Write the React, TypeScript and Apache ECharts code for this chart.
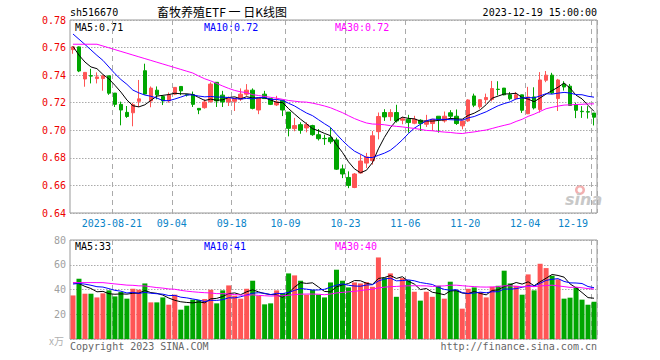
import React, { useEffect, useRef } from 'react';
import * as echarts from 'echarts';

// trading days shown on the chart
const dates = [
  '2023-08-10','2023-08-11','2023-08-14','2023-08-15','2023-08-16','2023-08-17','2023-08-18',
  '2023-08-21','2023-08-22','2023-08-23','2023-08-24','2023-08-25','2023-08-28','2023-08-29','2023-08-30','2023-08-31','2023-09-01',
  '2023-09-04','2023-09-05','2023-09-06','2023-09-07','2023-09-08','2023-09-11','2023-09-12','2023-09-13','2023-09-14','2023-09-15',
  '2023-09-18','2023-09-19','2023-09-20','2023-09-21','2023-09-22','2023-09-25','2023-09-26','2023-09-27','2023-09-28',
  '2023-10-09','2023-10-10','2023-10-11','2023-10-12','2023-10-13','2023-10-16','2023-10-17','2023-10-18','2023-10-19','2023-10-20',
  '2023-10-23','2023-10-24','2023-10-25','2023-10-26','2023-10-27','2023-10-30','2023-10-31','2023-11-01','2023-11-02','2023-11-03',
  '2023-11-06','2023-11-07','2023-11-08','2023-11-09','2023-11-10','2023-11-13','2023-11-14','2023-11-15','2023-11-16','2023-11-17',
  '2023-11-20','2023-11-21','2023-11-22','2023-11-23','2023-11-24','2023-11-27','2023-11-28','2023-11-29','2023-11-30','2023-12-01',
  '2023-12-04','2023-12-05','2023-12-06','2023-12-07','2023-12-08','2023-12-11','2023-12-12','2023-12-13','2023-12-14','2023-12-15',
  '2023-12-18','2023-12-19'
];

const opens = [
  0.7585,0.7605,0.7372,0.7396,0.7375,0.7375,0.7395,0.727,0.7188,0.713,
  0.7127,0.721,0.7432,0.7213,0.7291,0.7245,0.7213,0.7262,0.7318,0.7258,
  0.7259,0.7159,0.7164,0.7208,0.7348,0.7255,0.7206,0.721,0.7225,0.7262,
  0.7291,0.7147,0.7262,0.723,0.7184,0.7218,0.7132,0.7012,0.7041,0.7017,
  0.7034,0.6968,0.6941,0.6946,0.693,0.672,0.6658,0.6585,0.669,0.6762,
  0.678,0.699,0.7129,0.7099,0.7129,0.7073,0.708,0.7051,0.7073,0.7044,
  0.7049,0.7102,0.7068,0.7127,0.7102,0.7032,0.7068,0.7249,0.717,0.7222,
  0.7224,0.7298,0.7306,0.7258,0.7229,0.7257,0.712,0.7242,0.715,0.7363,
  0.74,0.723,0.7335,0.732,0.7185,0.7138,0.7135,0.7125
];
const closes = [
  0.7605,0.743,0.742,0.7393,0.7387,0.7395,0.7269,0.7188,0.7147,0.710,
  0.7186,0.7228,0.7263,0.7306,0.7257,0.7213,0.7257,0.7311,0.7286,0.7256,
  0.7188,0.7147,0.7205,0.7335,0.7213,0.7206,0.723,0.723,0.7262,0.7291,
  0.7159,0.7233,0.723,0.7188,0.7206,0.7147,0.7014,0.7034,0.700,0.7041,
  0.6968,0.6939,0.6939,0.6917,0.6718,0.6683,0.660,0.6683,0.6777,0.6807,
  0.696,0.710,0.7097,0.7129,0.7068,0.7083,0.7056,0.708,0.7049,0.7068,
  0.708,0.708,0.7102,0.7102,0.7049,0.7068,0.722,0.7182,0.7222,0.7238,
  0.7303,0.7296,0.7257,0.7229,0.7258,0.7145,0.7242,0.7162,0.7365,0.740,
  0.727,0.7365,0.7314,0.718,0.7145,0.7135,0.7132,0.7095
];
const lows = [
  0.7555,0.7422,0.7316,0.734,0.734,0.7287,0.7257,0.7169,0.7036,0.709,
  0.7029,0.7169,0.7258,0.7167,0.7225,0.7183,0.720,0.7255,0.7255,0.7245,
  0.7169,0.7117,0.7157,0.720,0.7169,0.7169,0.7176,0.714,0.7213,0.725,
  0.7152,0.7117,0.7228,0.7183,0.7176,0.7103,0.6956,0.6993,0.6975,0.6985,
  0.696,0.6926,0.6894,0.6902,0.6712,0.6653,0.658,0.658,0.6688,0.6726,
  0.6751,0.6934,0.7068,0.7068,0.7056,0.7044,0.6983,0.7044,0.6995,0.7024,
  0.6995,0.6983,0.7056,0.708,0.7039,0.7007,0.7061,0.7168,0.7156,0.7193,
  0.721,0.7254,0.7254,0.7217,0.7224,0.7126,0.7117,0.7151,0.7129,0.7349,
  0.7263,0.714,0.7288,0.7176,0.7088,0.709,0.7085,0.7035
];
const highs = [
  0.761,0.7608,0.7422,0.7446,0.742,0.740,0.7395,0.727,0.7208,0.7176,
  0.720,0.7365,0.7483,0.7318,0.7318,0.7255,0.7274,0.7311,0.7318,0.7265,
  0.7281,0.7159,0.7225,0.7348,0.735,0.7286,0.7245,0.7237,0.7304,0.7335,
  0.7304,0.7233,0.7286,0.7233,0.725,0.7218,0.7132,0.709,0.7058,0.7058,
  0.704,0.7009,0.6968,0.7019,0.6946,0.6751,0.6702,0.669,0.6824,0.6836,
  0.6995,0.7129,0.7153,0.7153,0.7185,0.7097,0.7112,0.7105,0.708,0.7112,
  0.708,0.7102,0.7136,0.7146,0.7151,0.7068,0.7225,0.7266,0.7224,0.7266,
  0.7358,0.7356,0.7307,0.7278,0.7278,0.7258,0.7315,0.7312,0.7422,0.743,
  0.7417,0.7373,0.7356,0.7336,0.72,0.7175,0.7175,0.7125
];
// volume, 万
const volumes = [
  35.2,48.7,36.6,36.6,33.6,36.9,39.3,34.4,38.0,32.6,
  40.6,39.8,44.9,29.6,29.6,33.6,27.7,35.8,23.7,26.9,
  31.8,31.5,32.3,39.8,28.8,39.3,43.3,35.0,32.6,40.6,
  47.1,35.0,28.0,28.8,39.3,37.2,53.0,51.4,47.1,35.8,
  39.8,35.8,33.6,45.7,56.0,47.1,41.7,45.7,44.9,45.9,
  42.2,65.9,49.5,53.0,34.1,49.2,47.4,38.2,31.0,38.2,
  34.1,43.0,32.6,46.3,39.3,24.5,40.6,41.7,38.0,33.6,
  42.2,43.0,55.2,44.9,43.0,35.8,52.2,39.3,60.8,57.3,
  51.1,48.2,32.6,33.4,41.7,31.8,27.7,30.1
];
// sessions before 2023-08-10, only used to feed the moving averages
const priorCloses = [
  0.743,0.742,0.739,0.739,
  0.778,0.766,0.758,0.754,0.749,0.758,0.762,0.765,0.770,0.765,0.760,0.765,0.770,0.768,0.765,0.758,
  0.781,0.780,0.779,0.778,0.776,0.775,0.767,0.757,0.745
];
const priorVolumes = [
  48,37,37,34,37,
  55,50,52,48,45,53,47,50,49,46,48,44,50,47,46,
  44,42,46,45,40,52,48,45,47
];
const tickDates = ['2023-08-21','2023-09-04','2023-09-18','2023-10-09','2023-10-23','2023-11-06','2023-11-20','2023-12-04','2023-12-19'];

const UP = '#ff5555';
const DOWN = '#00a600';
const MONO = 'DejaVu Sans Mono';

function movingAverage(prior: number[], values: number[], n: number): number[] {
  const all = prior.concat(values);
  const off = prior.length;
  return values.map((_, i) => {
    let s = 0;
    for (let k = off + i - n + 1; k <= off + i; k++) s += all[k];
    return s / n;
  });
}

export default function App() {
  const ref = useRef<HTMLDivElement>(null);
  useEffect(() => {
    if (!ref.current) return;
    const chart = echarts.init(ref.current, null, { renderer: 'svg' });
    const tickIdx = new Set(tickDates.map((d) => dates.indexOf(d)));
    const isTick = (i: number) => tickIdx.has(i);

    const pMA5 = movingAverage(priorCloses, closes, 5);
    const pMA10 = movingAverage(priorCloses, closes, 10);
    const pMA30 = movingAverage(priorCloses, closes, 30);
    const vMA5 = movingAverage(priorVolumes, volumes, 5);
    const vMA10 = movingAverage(priorVolumes, volumes, 10);
    const vMA30 = movingAverage(priorVolumes, volumes, 30);
    const last = (a: number[]) => a[a.length - 1];

    const kData = dates.map((_, i) => [opens[i], closes[i], lows[i], highs[i]]);
    const vData = volumes.map((v, i) => ({
      value: v,
      itemStyle: { color: closes[i] >= opens[i] ? UP : DOWN },
    }));

    const dashV = { show: true, interval: isTick, lineStyle: { color: '#aaa', type: [5, 4], width: 1 } };
    const dotH = { show: true, lineStyle: { color: '#aaa', type: [1.5, 1.5], width: 1 } };

    const txt = (text: string, x: number, y: number, fill: string, align = 'left', size = 10, family = MONO, extra: any = {}) => ({
      type: 'text', x, y, silent: true,
      style: { text, fill, fontSize: size, fontFamily: family, textAlign: align, textVerticalAlign: 'middle', ...extra },
    });

    const maLine = (name: string, data: number[], color: string, xi: number, yi: number) => ({
      name, type: 'line', data, xAxisIndex: xi, yAxisIndex: yi, showSymbol: false, symbol: 'none',
      lineStyle: { color, width: 1 }, silent: true, z: 5,
    });

    chart.setOption({
      animation: false,
      backgroundColor: '#fff',
      grid: [
        { left: 70, top: 20, width: 527, height: 193, show: true, borderColor: '#999', borderWidth: 1 },
        { left: 70, top: 240, width: 527, height: 99, show: true, borderColor: '#999', borderWidth: 1 },
      ],
      xAxis: [
        {
          type: 'category', gridIndex: 0, data: dates, boundaryGap: true,
          axisLine: { show: false }, axisTick: { show: false },
          axisLabel: {
            interval: isTick, color: '#0a84c8', fontFamily: MONO, fontSize: 10, margin: 5,
            padding: [0, 6, 0, 0], alignMaxLabel: 'right',
            formatter: (v: string) => (v === tickDates[0] ? v : v.slice(5)),
          },
          splitLine: dashV,
        },
        {
          type: 'category', gridIndex: 1, data: dates, boundaryGap: true,
          axisLine: { show: false }, axisTick: { show: false }, axisLabel: { show: false },
          splitLine: dashV,
        },
      ],
      yAxis: [
        {
          type: 'value', gridIndex: 0, min: 0.64, max: 0.78, interval: 0.02, scale: true,
          axisLine: { show: false }, axisTick: { show: false },
          axisLabel: { color: '#ee0000', fontFamily: MONO, fontSize: 10, margin: 4, formatter: (v: number) => v.toFixed(2) },
          splitLine: dotH,
        },
        {
          type: 'value', gridIndex: 1, min: 0, max: 80, interval: 20,
          axisLine: { show: false }, axisTick: { show: false },
          axisLabel: { color: '#a0a0a0', fontFamily: MONO, fontSize: 10, margin: 4, formatter: (v: number) => (v === 0 ? '' : String(v)) },
          splitLine: dotH,
        },
      ],
      series: [
        {
          name: 'K', type: 'candlestick', data: kData, xAxisIndex: 0, yAxisIndex: 0, barWidth: 4,
          itemStyle: { color: UP, color0: DOWN, borderColor: UP, borderColor0: DOWN, borderWidth: 1 },
          silent: true, z: 3,
        },
        maLine('MA5', pMA5, '#000000', 0, 0),
        maLine('MA10', pMA10, '#0000ff', 0, 0),
        maLine('MA30', pMA30, '#ff00ff', 0, 0),
        { name: 'VOL', type: 'bar', data: vData, xAxisIndex: 1, yAxisIndex: 1, barWidth: 5, silent: true, z: 3 },
        maLine('VMA5', vMA5, '#000000', 1, 1),
        maLine('VMA10', vMA10, '#0000ff', 1, 1),
        maLine('VMA30', vMA30, '#ff00ff', 1, 1),
      ],
      graphic: [
        txt('sh516670', 70, 12, '#000'),
        txt('畜牧养殖ETF 一 日K线图', 222, 11, '#000', 'center', 12, 'Noto Sans CJK SC'),
        txt('2023-12-19 15:00:00', 597, 12, '#000', 'right'),
        txt('MA5:' + last(pMA5).toFixed(2), 75, 27, '#000'),
        txt('MA10:' + last(pMA10).toFixed(2), 204, 27, '#0000ff'),
        txt('MA30:' + last(pMA30).toFixed(2), 335, 27, '#ff00ff'),
        txt('MA5:' + Math.round(last(vMA5)), 75, 246, '#000'),
        txt('MA10:' + Math.round(last(vMA10)), 204, 246, '#0000ff'),
        txt('MA30:' + Math.round(last(vMA30)), 335, 246, '#ff00ff'),
        txt('x万', 64, 340, '#b0b0b0', 'right', 10, 'Noto Sans CJK SC'),
        txt('Copyright 2023 SINA.COM', 70, 346, '#666'),
        txt('http://finance.sina.com.cn', 597, 346, '#666', 'right'),
        { type: 'ring', silent: true, shape: { cx: 580, cy: 190, r: 5, r0: 2.5 }, style: { fill: '#f3b0b0' } },
        txt('sina', 565, 199, '#c8c8c8', 'left', 16, 'DejaVu Sans', { fontStyle: 'italic', fontWeight: 'bold' }),
      ],
    });
    return () => chart.dispose();
  }, []);
  return <div ref={ref} style={{ position: 'absolute', left: 0, top: 0, width: 660, height: 360 }} />;
}
